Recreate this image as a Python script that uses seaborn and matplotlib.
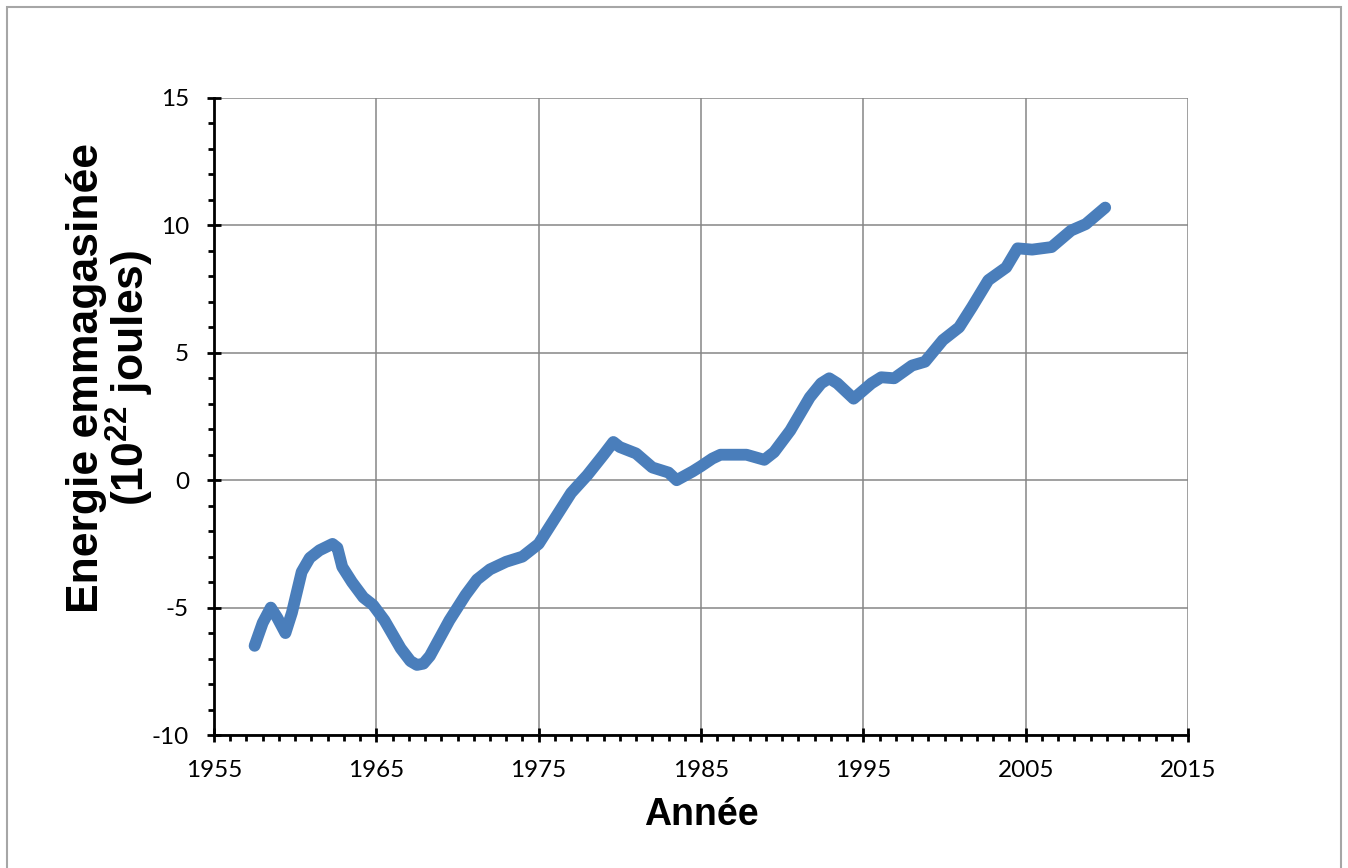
import matplotlib
matplotlib.use("Agg")
import matplotlib.pyplot as plt
import matplotlib.patches as mpatches
from matplotlib.ticker import MultipleLocator
import pandas as pd
import seaborn as sns

# values
years = [
    1957.5, 1958.0, 1958.5, 1958.9, 1959.4, 1959.8, 1960.4, 1960.9, 1961.5,
    1962.3, 1962.6, 1962.9, 1963.5, 1964.2, 1964.8, 1965.5, 1966.5, 1967.1,
    1967.5, 1967.9, 1968.3, 1969.5, 1970.5, 1971.2, 1972.0, 1973.0, 1974.0,
    1975.0, 1976.0, 1977.0, 1978.0, 1979.0, 1979.6, 1980.0, 1981.0, 1982.0,
    1983.0, 1983.5, 1984.5, 1985.0, 1985.7, 1986.2, 1987.8, 1988.9, 1989.5,
    1990.5, 1991.7, 1992.4, 1992.9, 1993.4, 1994.4, 1995.5, 1996.1, 1996.9,
    1998.0, 1998.8, 1999.9, 2000.9, 2001.7, 2002.7, 2003.8, 2004.5, 2005.4,
    2006.6, 2007.8, 2008.7, 2009.9,
]
energy = [
    -6.5, -5.6, -5.0, -5.4, -6.0, -5.2, -3.6, -3.05, -2.75,
    -2.5, -2.65, -3.4, -4.0, -4.6, -4.9, -5.5, -6.6, -7.1,
    -7.25, -7.2, -6.9, -5.5, -4.5, -3.9, -3.5, -3.2, -3.0,
    -2.5, -1.5, -0.5, 0.2, 1.0, 1.5, 1.3, 1.05, 0.5,
    0.3, 0.0, 0.35, 0.55, 0.85, 1.0, 1.0, 0.8, 1.1,
    1.95, 3.25, 3.8, 4.0, 3.8, 3.2, 3.8, 4.04, 4.0,
    4.5, 4.65, 5.5, 6.0, 6.8, 7.85, 8.35, 9.1, 9.05,
    9.15, 9.8, 10.05, 10.7,
]

x_ticks = [1955, 1965, 1975, 1985, 1995, 2005, 2015]
y_ticks = [-10, -5, 0, 5, 10, 15]

sns.set_theme(style="white")
plt.rcParams["font.family"] = ["Liberation Sans", "DejaVu Sans"]
plt.rcParams["axes.unicode_minus"] = False
plt.rcParams["mathtext.fontset"] = "custom"
plt.rcParams["mathtext.rm"] = "Liberation Sans:bold"
plt.rcParams["mathtext.default"] = "rm"

df = pd.DataFrame({"annee": years, "energie": energy})

fig = plt.figure(figsize=(13.48, 8.68), dpi=100)
ax = fig.add_axes([214 / 1348, 1 - 735 / 868, 974 / 1348, 637 / 868])

sns.lineplot(data=df, x="annee", y="energie", ax=ax, color="#4A7EBB",
             linewidth=8.5, solid_capstyle="round", solid_joinstyle="round",
             zorder=3)

ax.set_xlim(1955, 2015)
ax.set_ylim(-10, 15)
ax.set_xticks(x_ticks)
ax.set_yticks(y_ticks)
ax.xaxis.set_minor_locator(MultipleLocator(1))
ax.yaxis.set_minor_locator(MultipleLocator(1))

ax.grid(True, which="major", color="#868686", linewidth=1.1)
ax.set_axisbelow(True)

for side in ["top", "right"]:
    ax.spines[side].set_visible(False)
for side in ["left", "bottom"]:
    ax.spines[side].set_color("black")
    ax.spines[side].set_linewidth(2)
    ax.spines[side].set_zorder(4)

ax.tick_params(which="major", direction="inout", length=10, width=2,
               color="black", labelcolor="black", labelsize=17.5, pad=13,
               left=True, bottom=True)
ax.tick_params(which="minor", direction="out", length=4.5, width=2,
               color="black", left=True, bottom=True)
for lab in ax.get_xticklabels() + ax.get_yticklabels():
    lab.set_fontfamily(["Lato", "DejaVu Sans"])

ax.set_xlabel("")
ax.set_ylabel("")
fig.text((214 + 974 / 2) / 1348, 1 - 815 / 868, "Année", ha="center",
         va="center", fontsize=27, fontweight="bold", color="black")
fig.text(111 / 1348, 1 - 378 / 868, "Energie emmagasinée\n(10$^{22}$ joules)",
         rotation=90, ha="center", va="center", multialignment="center",
         fontsize=32, fontweight="bold", linespacing=0.92, color="black")

border = mpatches.Rectangle((7 / 1348, -0.02), 1334 / 1348, 1.02 - 7 / 868,
                            transform=fig.transFigure, fill=False,
                            edgecolor="#A6A6A6", linewidth=1.5)
fig.patches.append(border)

fig.savefig("out.png", dpi=100)
